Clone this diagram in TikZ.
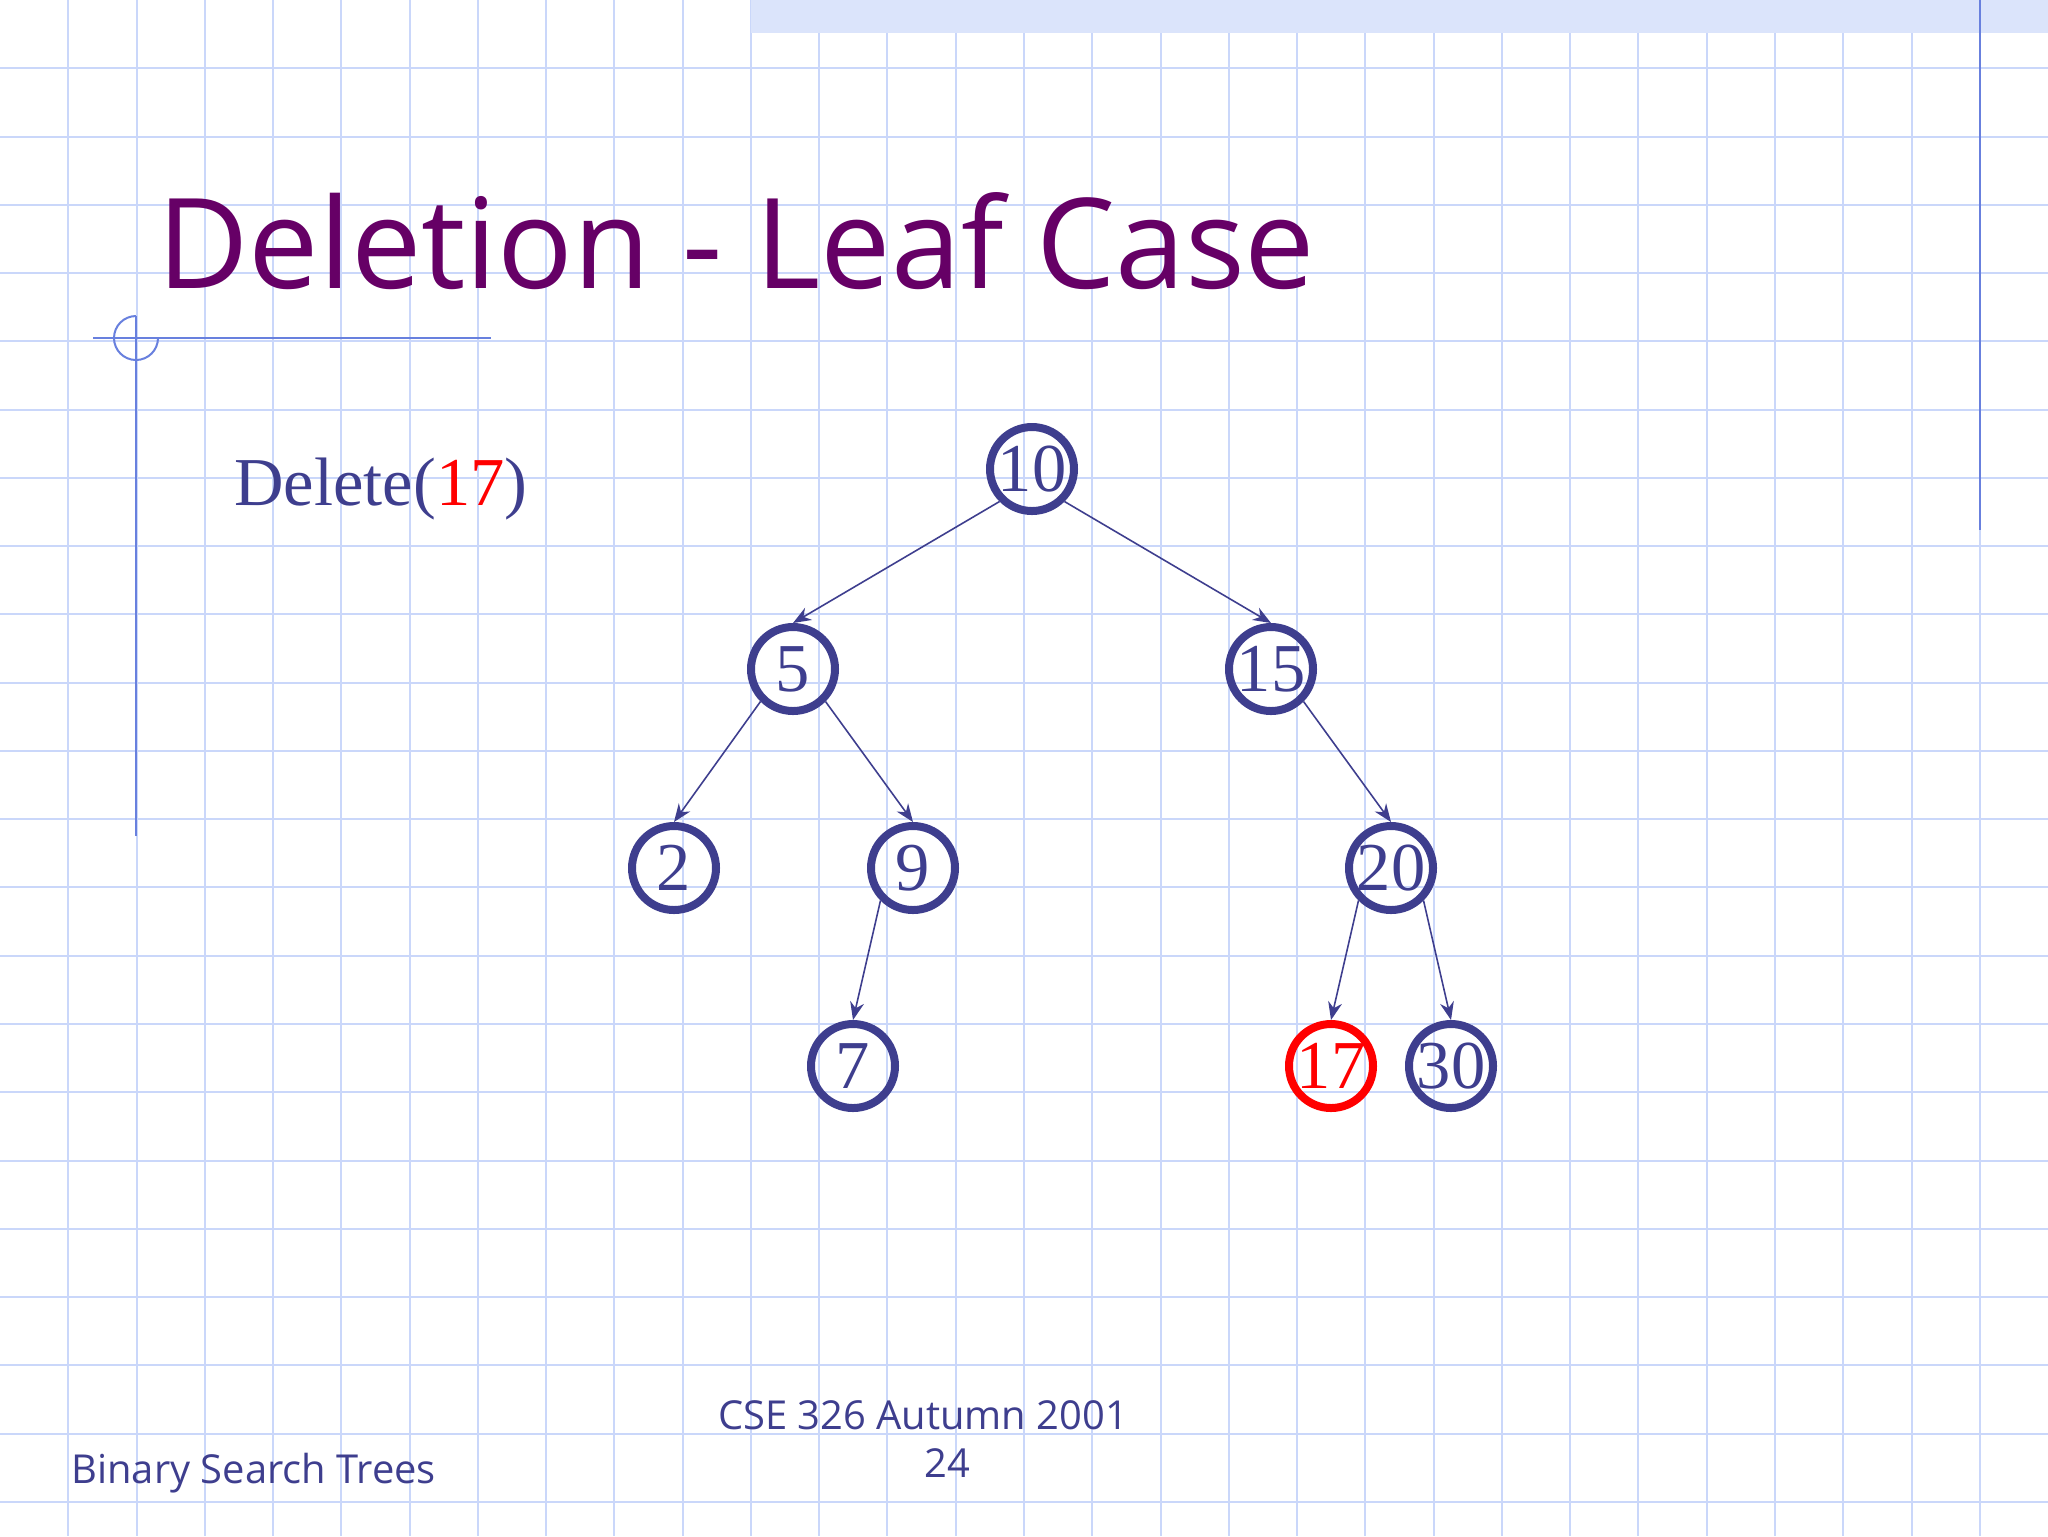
\documentclass[tikz,border=0pt]{standalone}
\usepackage{fontspec}
\usepackage{xcolor}
\usepackage{tikz}
\usetikzlibrary{arrows.meta}
\setmainfont{Liberation Serif}
\newfontfamily\titlefont{Open Sans}
\definecolor{gridblue}{RGB}{202,215,250}
\definecolor{bandblue}{RGB}{219,228,251}
\definecolor{decoblue}{RGB}{104,128,222}
\definecolor{treeblue}{RGB}{62,62,142}
\definecolor{titlepurple}{RGB}{102,0,102}
\definecolor{delred}{RGB}{255,0,0}

\begin{document}
\begin{tikzpicture}[x=0.1mm,y=-0.1mm]
\tikzstyle{every node}=[font=\fontsize{19.5}{22}\selectfont]
\tikzstyle{bst}=[circle, draw=treeblue, line width=0.8mm, minimum size=8.4mm, inner sep=0pt, text=treeblue]
\tikzstyle{gone}=[bst, draw=delred, text=delred]
\tikzstyle{link}=[draw=treeblue, line width=0.45pt, -{Stealth[length=1.8mm, width=1.4mm]}]
\tikzstyle{footer}=[text=treeblue, font=\titlefont\fontsize{11.35}{14}\selectfont]
\useasboundingbox (0,0) rectangle (2048,1536);
\fill[white] (0,0) rectangle (2048,1536);
% paper grid
\foreach \i in {1,...,29}
  \draw [gridblue, line width=0.2mm] (\i*68.267,0) -- (\i*68.267,1536);
\foreach \j in {1,...,22}
  \draw [gridblue, line width=0.2mm] (0,\j*68.267) -- (2048,\j*68.267);
\fill [bandblue] (751,0) rectangle (2048,33);
\draw [decoblue, line width=0.2mm] (1980,0) -- (1980,530);
% title corner mark
\draw [decoblue, line width=0.2mm] (93,338) -- (491,338);
\draw [decoblue, line width=0.2mm] (136,316) -- (136,836);
\draw [decoblue, line width=0.2mm] (136,316) arc[start angle=90, end angle=360, radius=2.2mm];
\node [anchor=base west, text=titlepurple, font=\titlefont\fontsize{35.7}{40}\selectfont] (title) at (145,288) {Deletion - Leaf Case};
\node [anchor=base west, text=treeblue] (cmd) at (222,505) {Delete(\textcolor{delred}{17})};
% tree
\node [bst] (n10) at (1032,469) {10};
\node [bst] (n5) at (793,669) {5};
\node [bst] (n15) at (1271,669) {15};
\node [bst] (n2) at (674,868) {2};
\node [bst] (n9) at (913,868) {9};
\node [bst] (n20) at (1391,868) {20};
\node [bst] (n7) at (853,1066) {7};
\node [gone] (n17) at (1331,1066) {17};
\node [bst] (n30) at (1451,1066) {30};
\draw [link] (n10.south west) -- (n5.north);
\draw [link] (n10.south east) -- (n15.north);
\draw [link] (n5.south west) -- (n2.north);
\draw [link] (n5.south east) -- (n9.north);
\draw [link] (n15.south east) -- (n20.north);
\draw [link] (n9.south west) -- (n7.north);
\draw [link] (n20.south west) -- (n17.north);
\draw [link] (n20.south east) -- (n30.north);
% footer
\node [anchor=base west, footer] (topic) at (59,1483) {Binary Search Trees};
\node [anchor=base, footer] (course) at (923,1429) {CSE 326 Autumn 2001};
\node [anchor=base, footer] (page) at (947,1477) {24};
\end{tikzpicture}
\end{document}
